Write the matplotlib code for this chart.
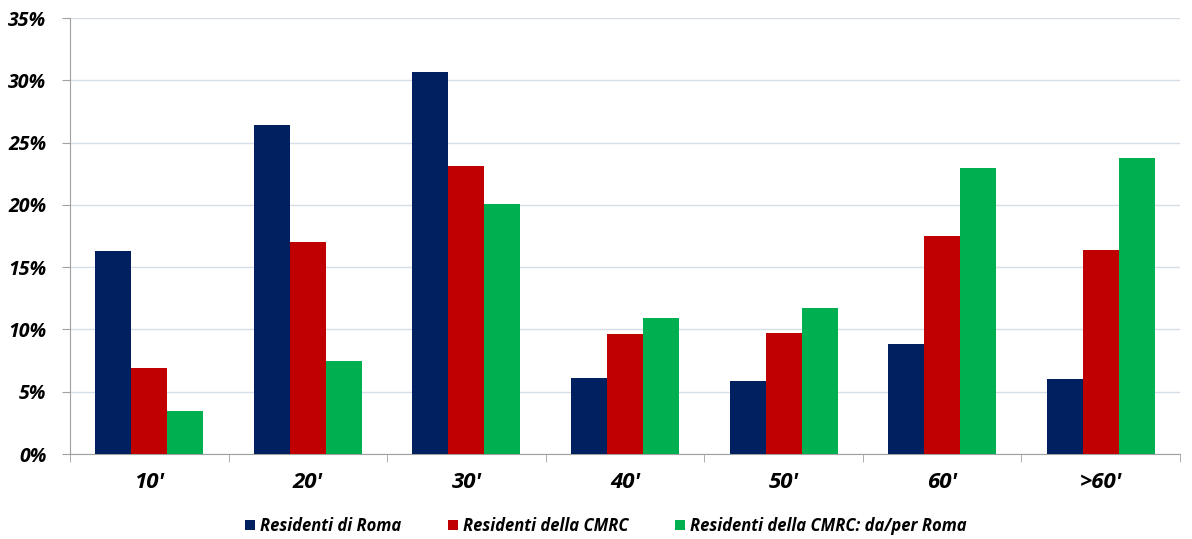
import matplotlib
matplotlib.use('Agg')
import matplotlib.pyplot as plt
import numpy as np
from matplotlib.ticker import FuncFormatter, FixedLocator

# tempi di spostamento (minuti) e quote per gruppo di residenti
categories = ["10'", "20'", "30'", "40'", "50'", "60'", ">60'"]
roma       = [16.3, 26.4, 30.7, 6.1, 5.9, 8.8, 6.0]
cmrc       = [6.9, 17.0, 23.1, 9.6, 9.7, 17.5, 16.4]
cmrc_roma  = [3.45, 7.45, 20.05, 10.9, 11.7, 22.95, 23.8]
labels     = ['Residenti di Roma', 'Residenti della CMRC', 'Residenti della CMRC: da/per Roma']
colors     = ['#002060', '#C00000', '#00B050']

plt.rcParams['font.family'] = ['Open Sans', 'DejaVu Sans']

fig = plt.figure(figsize=(11.92, 5.39), dpi=100)
ax = fig.add_axes([70/1192, 1-454/539, 1110/1192, 436/539])

x = np.arange(len(categories))
w = 0.227
for i, (vals, lab, c) in enumerate(zip([roma, cmrc, cmrc_roma], labels, colors)):
    ax.bar(x + (i-1)*w, vals, width=w, color=c, label=lab, zorder=3)

ax.set_xlim(-0.5, len(categories)-0.5)
ax.set_ylim(0, 35)
ax.set_yticks(np.arange(0, 36, 5))
ax.yaxis.set_major_formatter(FuncFormatter(lambda v, p: f'{v:.0f}%'))
ax.grid(axis='y', color='#d5dde8', lw=1, zorder=0)
ax.set_axisbelow(True)

ax.set_xticks(x)
ax.set_xticklabels(categories, fontsize=16, fontweight='bold', style='italic')
ax.xaxis.set_minor_locator(FixedLocator(np.arange(-0.5, len(categories), 1)))
ax.tick_params(axis='x', which='major', length=0, pad=13)
ax.tick_params(axis='x', which='minor', length=6, color='#a0a0a0')
ax.tick_params(axis='y', length=6, color='#a0a0a0', pad=11)
for t in ax.get_yticklabels():
    t.set_fontsize(14); t.set_fontweight('bold'); t.set_style('italic')

for s in ['top', 'right']:
    ax.spines[s].set_visible(False)
for s in ['left', 'bottom']:
    ax.spines[s].set_color('#a0a0a0')

leg = ax.legend(loc='center', bbox_to_anchor=(0.483, -0.165), ncol=3, frameon=False,
                handlelength=0.6, handleheight=0.6, handletextpad=0.3, columnspacing=2.8,
                prop={'size': 12, 'weight': 'bold', 'style': 'italic'})

fig.savefig('out.png', dpi=100)
